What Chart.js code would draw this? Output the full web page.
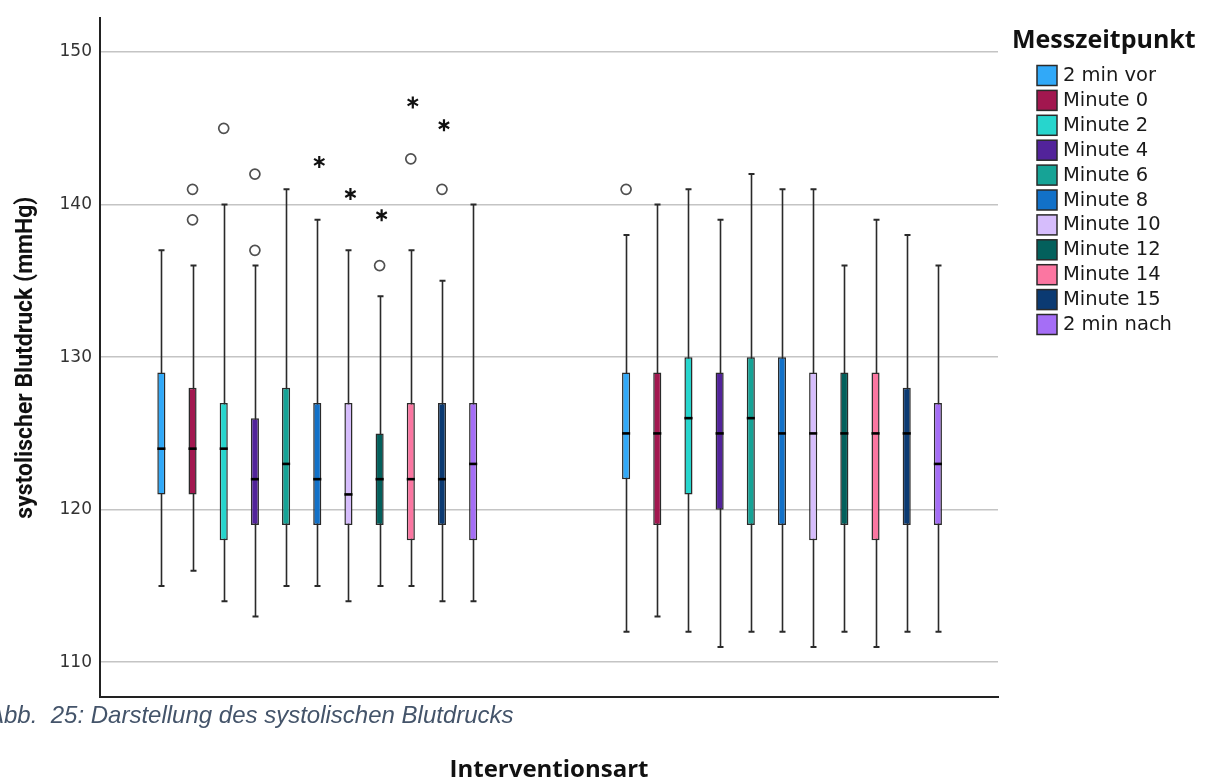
<!DOCTYPE html>
<html>
<head>
<meta charset="utf-8">
<script src="https://cdn.jsdelivr.net/npm/chart.js@4.4.1/dist/chart.umd.min.js"></script>
<style>
  html, body { margin: 0; padding: 0; background: #ffffff; overflow: hidden; }
  #wrap { width: 1212px; height: 780px; position: relative; }
</style>
</head>
<body>
<div id="wrap"><canvas id="chart" width="1212" height="780"></canvas></div>
<script>
// Messzeitpunkte (one box per time point within each Interventionsart group)
const seriesNames = ['2 min vor', 'Minute 0', 'Minute 2', 'Minute 4', 'Minute 6', 'Minute 8',
                     'Minute 10', 'Minute 12', 'Minute 14', 'Minute 15', '2 min nach'];
const seriesColors = ['#31a9f8', '#a2174f', '#27d5cd', '#52239a', '#16a396', '#1271c8',
                      '#d6bdfc', '#03605c', '#fb76a1', '#0b3a72', '#a56ef6'];

// Interventionsart groups on the x axis
const groupPositions = [1, 2];

// Group 1 statistics (mmHg), in series order
const lowA    = [115, 116, 114, 113, 115, 115, 114, 115, 115, 114, 114];
const q1A     = [121, 121, 118, 119, 119, 119, 119, 119, 118, 119, 118];
const medianA = [124, 124, 124, 122, 123, 122, 121, 122, 122, 122, 123];
const q3A     = [129, 128, 127, 126, 128, 127, 127, 125, 127, 127, 127];
const highA   = [137, 136, 140, 136, 141, 139, 137, 134, 137, 135, 140];

// Group 2 statistics (mmHg), in series order
const lowB    = [112, 113, 112, 111, 112, 112, 111, 112, 111, 112, 112];
const q1B     = [122, 119, 121, 120, 119, 119, 118, 119, 118, 119, 119];
const medianB = [125, 125, 126, 125, 126, 125, 125, 125, 125, 125, 123];
const q3B     = [129, 129, 130, 129, 130, 130, 129, 129, 129, 128, 127];
const highB   = [138, 140, 141, 139, 142, 141, 141, 136, 139, 138, 136];

// Outliers (circles): series index, group index, value
const outlierSeries = [1, 1, 2, 3, 3, 7, 8, 9, 0];
const outlierGroup  = [0, 0, 0, 0, 0, 0, 0, 0, 1];
const outlierValue  = [141, 139, 145, 142, 137, 136, 143, 141, 141];

// Extreme values (asterisks): series index, group index, value
const extremeSeries = [5, 6, 7, 8, 9];
const extremeGroup  = [0, 0, 0, 0, 0];
const extremeValue  = [142.8, 140.7, 139.3, 146.7, 145.2];

// Y axis tick labels
const yTicks = [110, 120, 130, 140, 150];

const groupStats = [
  { low: lowA, q1: q1A, median: medianA, q3: q3A, high: highA },
  { low: lowB, q1: q1B, median: medianB, q3: q3B, high: highB }
];

const datasets = seriesNames.map((name, i) => ({
  label: name,
  data: groupPositions.map((g, k) => ({ x: g, y: [groupStats[k].q1[i], groupStats[k].q3[i]] })),
  backgroundColor: seriesColors[i],
  borderColor: '#2a2a2a',
  borderWidth: 1.5,
  borderSkipped: false,
  categoryPercentage: 0.738,
  barPercentage: 0.26
}));

// Whiskers behind the boxes, medians and outlier markers on top
const boxPlotParts = {
  id: 'boxPlotParts',
  beforeDatasetsDraw(chart) {
    const ctx = chart.ctx, ys = chart.scales.y;
    ctx.save();
    ctx.strokeStyle = '#2a2a2a';
    chart.data.datasets.forEach((ds, i) => {
      chart.getDatasetMeta(i).data.forEach((bar, k) => {
        const st = groupStats[k];
        const x = Math.round(bar.x) + 0.5;
        const top = ys.getPixelForValue(st.high[i]);
        const bot = ys.getPixelForValue(st.low[i]);
        ctx.lineWidth = 1.6;
        ctx.beginPath();
        ctx.moveTo(x, top); ctx.lineTo(x, bot);
        ctx.stroke();
        ctx.lineWidth = 2;
        ctx.beginPath();
        ctx.moveTo(x - 3, top); ctx.lineTo(x + 3, top);
        ctx.moveTo(x - 3, bot); ctx.lineTo(x + 3, bot);
        ctx.stroke();
      });
    });
    ctx.restore();
  },
  afterDatasetsDraw(chart) {
    const ctx = chart.ctx, ys = chart.scales.y;
    ctx.save();
    chart.data.datasets.forEach((ds, i) => {
      chart.getDatasetMeta(i).data.forEach((bar, k) => {
        const y = ys.getPixelForValue(groupStats[k].median[i]);
        ctx.strokeStyle = '#000000';
        ctx.lineWidth = 2.6;
        ctx.beginPath();
        ctx.moveTo(bar.x - bar.width / 2, y);
        ctx.lineTo(bar.x + bar.width / 2, y);
        ctx.stroke();
      });
    });
    const barAt = (s, g) => chart.getDatasetMeta(s).data[g];
    ctx.strokeStyle = '#505050';
    ctx.lineWidth = 1.7;
    outlierValue.forEach((v, j) => {
      const bar = barAt(outlierSeries[j], outlierGroup[j]);
      ctx.beginPath();
      ctx.arc(bar.x, ys.getPixelForValue(v), 5, 0, Math.PI * 2);
      ctx.stroke();
    });
    ctx.strokeStyle = '#111111';
    ctx.lineWidth = 2.2;
    extremeValue.forEach((v, j) => {
      const bar = barAt(extremeSeries[j], extremeGroup[j]);
      const cx = bar.x + 2, cy = ys.getPixelForValue(v), r = 6;
      ctx.beginPath();
      for (let a = 0; a < 3; a++) {
        const ang = Math.PI / 2 + a * Math.PI / 3;
        ctx.moveTo(cx + r * Math.cos(ang), cy + r * Math.sin(ang));
        ctx.lineTo(cx - r * Math.cos(ang), cy - r * Math.sin(ang));
      }
      ctx.stroke();
    });
    ctx.restore();
  }
};

// Legend block on the right and the figure caption below the axis
const sideLegend = {
  id: 'sideLegend',
  afterDraw(chart) {
    const ctx = chart.ctx;
    ctx.save();
    ctx.fillStyle = '#111111';
    ctx.font = 'bold 25px "Open Sans"';
    ctx.textAlign = 'left';
    ctx.textBaseline = 'alphabetic';
    ctx.fillText('Messzeitpunkt', 1012, 48);
    ctx.font = '19.5px "DejaVu Sans"';
    ctx.textBaseline = 'middle';
    chart.data.datasets.forEach((ds, i) => {
      const top = 65.5 + i * 24.9;
      ctx.fillStyle = ds.backgroundColor;
      ctx.fillRect(1037, top, 20, 20);
      ctx.strokeStyle = '#2a2a2a';
      ctx.lineWidth = 1.5;
      ctx.strokeRect(1037, top, 20, 20);
      ctx.fillStyle = '#1a1a1a';
      ctx.fillText(ds.label, 1063, top + 10.5);
    });
    ctx.font = 'italic 24px "Liberation Sans"';
    ctx.fillStyle = '#44546a';
    ctx.textBaseline = 'alphabetic';
    ctx.fillText('Abb.  25: Darstellung des systolischen Blutdrucks', -12, 723);
    ctx.restore();
  }
};

new Chart(document.getElementById('chart'), {
  type: 'bar',
  data: { datasets },
  options: {
    responsive: false,
    animation: false,
    devicePixelRatio: 1,
    layout: { padding: { top: 15, right: 214, left: 0, bottom: 0 } },
    plugins: { legend: { display: false }, tooltip: { enabled: false } },
    scales: {
      x: {
        type: 'linear',
        offset: false,
        min: 0.5325,
        max: 2.4648,
        afterBuildTicks: (s) => { s.ticks = groupPositions.map(v => ({ value: v })); },
        afterFit: (s) => { s.height = 83; },
        grid: { display: false, drawTicks: false, offset: false },
        ticks: { display: false },
        border: { display: true, color: '#222222', width: 2 },
        title: {
          display: true,
          text: 'Interventionsart',
          color: '#111111',
          font: { family: 'Open Sans', weight: 'bold', size: 24, lineHeight: 0.8 },
          padding: { top: 0, bottom: 0 }
        }
      },
      y: {
        min: 107.72,
        max: 152.22,
        afterBuildTicks: (s) => { s.ticks = yTicks.map(v => ({ value: v })); },
        afterFit: (s) => { s.width = 100; },
        grid: { color: '#c4c4c4', lineWidth: 1.5, drawTicks: false },
        border: { display: true, color: '#222222', width: 2 },
        ticks: {
          color: '#333333',
          padding: 8,
          font: { family: 'DejaVu Sans', size: 17 }
        },
        title: {
          display: true,
          text: 'systolischer Blutdruck (mmHg)',
          color: '#111111',
          font: { family: 'Roboto', weight: 'bold', size: 23 },
          padding: { top: 12, bottom: 0 }
        }
      }
    }
  },
  plugins: [boxPlotParts, sideLegend]
});
</script>
</body>
</html>
